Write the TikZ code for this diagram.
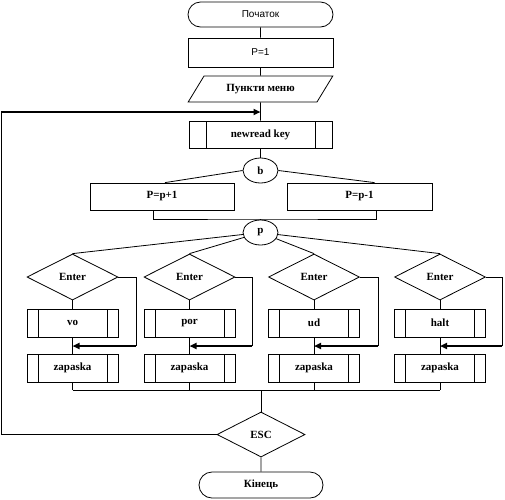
\documentclass[tikz,border=0pt]{standalone}
\usepackage{fontspec}
\setmainfont{Liberation Serif}
\setsansfont{Liberation Sans}
\usetikzlibrary{arrows.meta,shapes.geometric,shapes.misc}

\begin{document}
\begin{tikzpicture}[x=1pt,y=-1pt,line width=0.8pt,font=\bfseries\fontsize{11}{13}\selectfont,
  >={Triangle[length=7pt,width=6pt]},
  term/.style={draw,rounded rectangle,minimum height=26pt,inner sep=0pt},
  proc/.style={draw,rectangle,minimum height=28pt,inner sep=0pt},
  io/.style={draw,trapezium,trapezium left angle=45,trapezium right angle=135,trapezium stretches=true,
    minimum width=145pt,minimum height=26pt,inner sep=0pt},
  subr/.style={proc,path picture={
    \draw ([xshift=#1]path picture bounding box.north west) -- ([xshift=#1]path picture bounding box.south west);
    \draw ([xshift=-#1]path picture bounding box.north east) -- ([xshift=-#1]path picture bounding box.south east);}},
  cond/.style={draw,diamond,inner sep=0pt},
  sel/.style={draw,ellipse,minimum width=35pt,minimum height=25pt,inner sep=0pt},
  loopline/.style={->,line width=2pt},
  plain/.style={font=\sffamily\fontsize{10}{12}\selectfont}]
  \useasboundingbox (0,0) rectangle (505,499);

  \node[term,plain,minimum width=145pt,minimum height=25pt] (start) at (260.5,14.5) {Початок};
  \node[proc,plain,minimum width=145pt,minimum height=29pt] (p1) at (260.5,52.5) {P=1};
  \node[io] (menu) at (260.5,89) {Пункти меню};
  \node[subr=17pt,minimum width=143pt,minimum height=27pt] (rk) at (260.5,134.5) {newread key};
  \node[sel] (b) at (260.5,170.5) {b};
  \node[proc,minimum width=144pt,minimum height=27pt] (pp) at (162,196.5) {P=p+1};
  \node[proc,minimum width=145pt,minimum height=27pt] (pm) at (359.5,196.5) {P=p-1};
  \node[sel] (p) at (260.5,232.5) {p};
  \node[cond,minimum width=88pt,minimum height=45pt] (esc) at (261,434.5) {ESC};
  \node[term,minimum width=124pt] (end) at (261,485) {Кінець};

  \coordinate (j1) at (260.5,219);
  \coordinate (j2) at (261,390);
  \coordinate (lb) at (1,434.5);
  \coordinate (lt) at (1,112);
  \coordinate (la) at (260.5,112);

  \draw (start) -- (p1);
  \draw (p1) -- (menu);
  \draw (menu) -- (rk);
  \draw (rk) -- (b);
  \draw (b.west) -- ([xshift=3pt]pp.north);
  \draw (b.east) -- ([xshift=15pt]pm.north);
  \draw ([xshift=-9pt]pp.south) |- (j1) -| ([xshift=17pt]pm.south);
  \draw (j1) -- (p);

  \foreach \i/\x/\xr/\name in {1/72.5/136/vo,2/189.5/252/por,3/314/378/ud,4/440/502/halt}{
    \node[cond,minimum width=91pt,minimum height=46pt] (d\i) at (\x,277) {Enter};
    \node[subr=11pt,minimum width=91pt] (s\i) at (\x,323) {\name};
    \node[subr=11pt,minimum width=91pt] (z\i) at (\x,368) {zapaska};
    \coordinate (r\i) at (\xr,346);
    \coordinate (m\i) at (\x,346);
    \draw (p) -- (d\i.north);
    \draw (d\i.south) -- (s\i.north);
    \draw (s\i.south) -- (z\i.north);
    \draw (d\i.east) -| (r\i);
    \draw[loopline] (r\i) -- (m\i);
    \draw (z\i.south) -- (z\i.south |- j2);
  }
  \draw (z1.south |- j2) -- (z4.south |- j2);
  \draw (j2) -- (esc);
  \draw (esc) -- (end);
  \draw (esc.west) -- (lb) -- (lt);
  \draw[loopline] (lt) -- (la);
\end{tikzpicture}
\end{document}
